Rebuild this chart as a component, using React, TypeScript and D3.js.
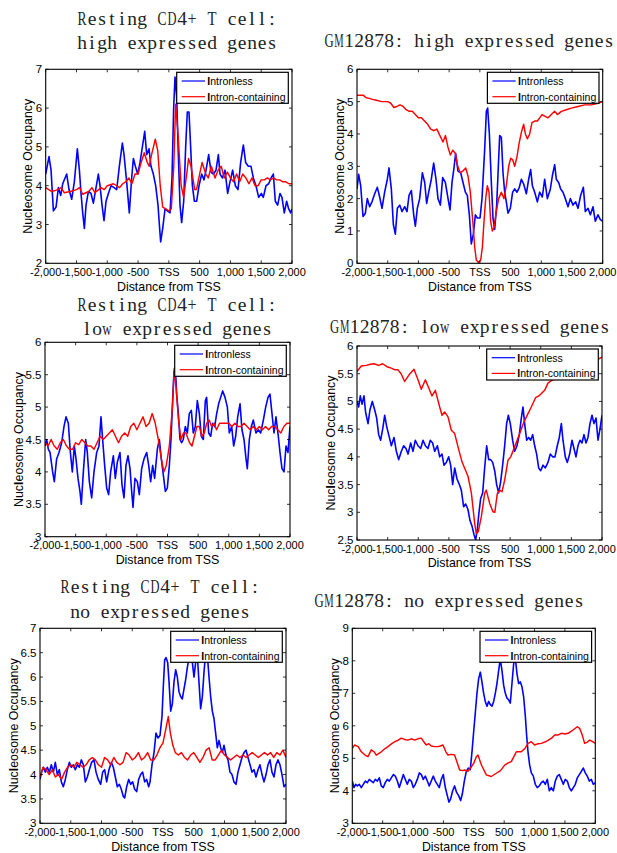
import React from 'react';
import * as d3 from 'd3';

type Pt = [number, number];

// Shared axis / legend text
const xTicks = [-2000, -1500, -1000, -500, 0, 500, 1000, 1500, 2000];
const xTickLabels = ['-2,000', '-1,500', '-1,000', '-500', 'TSS', '500', '1,000', '1,500', '2,000'];
const legendLabels = ['Intronless', 'Intron-containing'];
const seriesColors = ['#0000ff', '#ff0000'];

// Resting CD4+ T cell, high expressed genes
const cd4HighIntronless: Pt[] = [
  [-2000, 4.3], [-1946, 4.75], [-1913, 4.4], [-1875, 3.35], [-1832, 3.45], [-1794, 3.95], [-1756, 3.75], [-1724, 4.05],
  [-1659, 4.3], [-1621, 3.9], [-1578, 3.65], [-1535, 4.1], [-1486, 4.95], [-1453, 4.4], [-1426, 3.8], [-1399, 3.3],
  [-1372, 2.9], [-1345, 3.5], [-1307, 3.85], [-1264, 3.8], [-1226, 3.55], [-1188, 3.9], [-1145, 4.3], [-1118, 4.0],
  [-1085, 3.5], [-1053, 3.1], [-1020, 3.6], [-982, 3.8], [-939, 4.0], [-890, 3.95], [-847, 3.9], [-804, 4.5],
  [-755, 5.1], [-728, 4.8], [-685, 4.1], [-642, 3.3], [-604, 4.2], [-576, 4.7], [-544, 4.5], [-506, 4.3],
  [-468, 4.6], [-430, 5.0], [-392, 5.4], [-360, 4.8], [-322, 4.95], [-290, 4.5], [-252, 4.3], [-214, 4.0],
  [-176, 3.5], [-154, 3.0], [-133, 2.55], [-100, 2.9], [-62, 3.4], [-24, 3.35], [19, 3.3], [51, 4.2],
  [78, 6.0], [100, 6.8], [127, 6.3], [154, 4.8], [181, 3.5], [208, 3.05], [241, 3.6], [273, 5.0],
  [300, 5.9], [327, 5.9], [354, 5.0], [382, 4.0], [414, 3.6], [452, 3.6], [490, 4.0], [533, 4.3],
  [571, 4.15], [604, 4.4], [647, 4.8], [685, 4.35], [723, 4.3], [766, 4.4], [804, 4.8], [831, 4.3],
  [869, 4.2], [912, 4.4], [955, 3.8], [993, 4.1], [1036, 4.4], [1080, 4.0], [1123, 3.9], [1166, 4.6],
  [1210, 5.05], [1247, 4.6], [1291, 4.5], [1334, 4.5], [1372, 4.2], [1415, 4.0], [1459, 3.7], [1502, 3.8],
  [1534, 3.7], [1578, 4.0], [1621, 4.05], [1659, 4.2], [1697, 4.3], [1729, 3.6], [1767, 3.5], [1805, 3.8],
  [1837, 3.7], [1875, 3.3], [1913, 3.6], [1946, 3.4], [1978, 3.3], [2000, 3.4],
];
const cd4HighIntron: Pt[] = [
  [-2000, 3.95], [-1900, 3.85], [-1800, 3.9], [-1750, 3.95], [-1700, 3.82], [-1600, 3.85], [-1500, 3.9], [-1450, 3.95],
  [-1400, 3.78], [-1300, 3.85], [-1250, 3.95], [-1200, 3.82], [-1100, 3.95], [-1050, 3.9], [-1000, 4.0], [-900, 4.05],
  [-800, 3.95], [-750, 4.05], [-700, 4.1], [-650, 4.2], [-600, 4.05], [-550, 4.3], [-500, 4.3], [-450, 4.6],
  [-400, 4.85], [-350, 4.6], [-320, 4.5], [-280, 4.8], [-220, 5.2], [-180, 4.9], [-140, 4.0], [-100, 3.45],
  [-50, 3.4], [0, 3.35], [40, 3.4], [80, 4.5], [110, 6.1], [150, 5.3], [200, 4.0], [240, 3.7],
  [290, 4.3], [320, 4.7], [360, 4.5], [420, 3.9], [450, 3.9], [500, 4.3], [540, 4.6], [600, 4.3],
  [640, 4.2], [690, 4.5], [750, 4.2], [800, 4.4], [850, 4.5], [900, 4.2], [950, 4.35], [1000, 4.2],
  [1050, 4.1], [1100, 4.3], [1150, 4.1], [1200, 4.3], [1250, 4.2], [1300, 4.05], [1350, 4.2], [1400, 4.0],
  [1450, 4.0], [1500, 4.15], [1550, 4.15], [1600, 4.2], [1650, 4.15], [1700, 4.2], [1750, 4.15], [1800, 4.15],
  [1850, 4.1], [1900, 4.1], [1950, 4.05], [2000, 4.05],
];

// GM12878, high expressed genes
const gmHighIntronless: Pt[] = [
  [-2000, 2.3], [-1973, 2.75], [-1940, 2.4], [-1902, 1.45], [-1864, 1.55], [-1832, 2.0], [-1794, 1.75], [-1756, 1.9],
  [-1712, 2.15], [-1669, 2.35], [-1631, 2.05], [-1593, 1.7], [-1550, 2.2], [-1506, 2.6], [-1479, 2.95], [-1441, 2.3],
  [-1408, 1.2], [-1376, 0.9], [-1343, 1.7], [-1305, 1.8], [-1267, 1.6], [-1224, 1.75], [-1186, 1.6], [-1153, 2.1],
  [-1115, 2.25], [-1077, 1.5], [-1050, 1.15], [-1018, 1.7], [-980, 2.0], [-936, 2.8], [-898, 2.5], [-866, 1.85],
  [-833, 2.2], [-790, 2.6], [-752, 3.1], [-714, 2.6], [-681, 2.0], [-643, 1.8], [-605, 2.65], [-562, 2.5],
  [-518, 2.0], [-486, 1.65], [-453, 2.5], [-421, 2.95], [-394, 3.4], [-356, 2.85], [-312, 2.8], [-274, 2.5],
  [-236, 2.2], [-204, 2.1], [-171, 1.5], [-139, 0.6], [-106, 0.9], [-73, 1.5], [-41, 1.4], [3, 1.4],
  [35, 2.0], [78, 3.5], [106, 4.7], [127, 4.8], [155, 4.0], [187, 2.5], [214, 1.4], [241, 1.05],
  [274, 1.8], [301, 3.0], [323, 3.95], [350, 3.9], [377, 2.8], [404, 2.2], [431, 1.9], [458, 1.55],
  [496, 1.7], [534, 2.2], [567, 2.3], [605, 2.2], [643, 2.35], [676, 2.6], [713, 2.45], [757, 2.15],
  [795, 2.6], [827, 2.9], [855, 2.4], [893, 2.2], [936, 1.9], [974, 2.2], [1017, 2.05], [1055, 2.6],
  [1099, 2.0], [1148, 2.3], [1180, 2.7], [1218, 3.05], [1245, 2.6], [1283, 2.5], [1316, 2.3], [1354, 2.2],
  [1392, 2.0], [1435, 1.75], [1473, 2.0], [1517, 1.8], [1560, 1.9], [1598, 1.7], [1641, 2.1], [1685, 2.35],
  [1717, 1.6], [1761, 1.7], [1799, 1.5], [1842, 1.75], [1880, 1.3], [1923, 1.5], [1962, 1.35], [2000, 1.3],
];
const gmHighIntron: Pt[] = [
  [-2000, 5.2], [-1900, 5.2], [-1850, 5.12], [-1800, 5.1], [-1750, 5.07], [-1700, 5.05], [-1600, 5.0], [-1500, 5.0],
  [-1450, 4.95], [-1400, 4.82], [-1350, 4.85], [-1300, 4.9], [-1250, 4.85], [-1200, 4.75], [-1150, 4.7], [-1100, 4.7],
  [-1050, 4.6], [-1000, 4.5], [-950, 4.5], [-900, 4.4], [-850, 4.3], [-800, 4.15], [-750, 4.1], [-700, 4.15],
  [-650, 3.95], [-600, 3.75], [-560, 3.95], [-520, 3.6], [-480, 3.35], [-440, 3.5], [-400, 3.4], [-360, 3.0],
  [-320, 2.8], [-280, 2.85], [-230, 2.95], [-193, 2.7], [-155, 2.2], [-111, 1.2], [-84, 0.5], [-57, 0.1],
  [-19, 0.02], [14, 0.1], [41, 0.5], [68, 1.3], [95, 2.0], [122, 2.4], [149, 2.2], [176, 1.3],
  [203, 1.0], [230, 1.1], [268, 1.6], [306, 2.0], [350, 2.2], [393, 2.0], [431, 2.4], [469, 3.0],
  [502, 3.25], [534, 3.2], [567, 3.0], [605, 3.3], [638, 3.7], [676, 4.05], [713, 4.3], [741, 4.0],
  [773, 3.85], [811, 4.0], [849, 4.35], [893, 4.4], [936, 4.4], [974, 4.5], [1012, 4.6], [1055, 4.55],
  [1110, 4.5], [1164, 4.6], [1218, 4.7], [1262, 4.6], [1327, 4.7], [1408, 4.75], [1490, 4.8], [1598, 4.85],
  [1707, 4.9], [1815, 4.9], [1923, 4.95], [2000, 5.0],
];

// Resting CD4+ T cell, low expressed genes
const cd4LowIntronless: Pt[] = [
  [-2000, 4.4], [-1973, 4.5], [-1946, 4.35], [-1918, 4.3], [-1875, 4.0], [-1848, 3.85], [-1810, 4.2], [-1771, 4.3],
  [-1728, 4.45], [-1690, 4.7], [-1657, 4.85], [-1619, 4.75], [-1586, 4.3], [-1554, 4.0], [-1521, 4.4], [-1494, 4.2],
  [-1461, 3.9], [-1429, 3.7], [-1407, 3.5], [-1374, 4.0], [-1336, 4.5], [-1309, 4.3], [-1276, 3.85], [-1238, 3.6],
  [-1200, 4.0], [-1156, 4.3], [-1118, 4.4], [-1086, 4.85], [-1059, 4.5], [-1026, 4.1], [-993, 3.75], [-961, 3.65],
  [-928, 4.0], [-884, 4.25], [-852, 3.9], [-819, 4.15], [-776, 4.3], [-743, 3.8], [-710, 3.6], [-678, 4.1],
  [-645, 4.25], [-612, 4.05], [-585, 3.7], [-563, 3.45], [-531, 3.9], [-493, 3.85], [-460, 3.65], [-422, 4.05],
  [-384, 4.2], [-340, 4.3], [-307, 4.1], [-275, 3.85], [-242, 4.1], [-210, 3.9], [-166, 4.35], [-133, 4.5],
  [-101, 4.2], [-68, 3.95], [-35, 3.7], [-3, 3.75], [30, 4.1], [57, 4.5], [84, 5.1], [106, 5.55],
  [128, 5.6], [150, 5.2], [177, 4.9], [204, 4.5], [231, 4.45], [258, 4.5], [291, 4.7], [324, 4.6],
  [356, 4.9], [389, 4.95], [421, 4.6], [454, 4.7], [487, 5.1], [520, 4.9], [552, 4.55], [585, 4.5],
  [618, 5.1], [639, 5.15], [672, 4.6], [705, 4.55], [737, 4.75], [770, 4.7], [803, 4.9], [835, 5.05],
  [868, 5.15], [901, 5.25], [939, 5.15], [977, 5.0], [1009, 4.6], [1048, 4.7], [1080, 4.4], [1113, 4.55],
  [1146, 4.85], [1184, 5.05], [1216, 4.65], [1249, 4.5], [1282, 4.2], [1303, 4.05], [1336, 4.5], [1369, 4.7],
  [1401, 4.8], [1445, 4.6], [1483, 4.65], [1521, 4.6], [1565, 4.8], [1603, 5.0], [1641, 5.15], [1673, 5.2],
  [1706, 4.9], [1739, 4.6], [1771, 4.85], [1809, 4.55], [1837, 4.3], [1869, 4.05], [1902, 4.0], [1935, 4.4],
  [1967, 4.3], [2000, 4.7],
];
const cd4LowIntron: Pt[] = [
  [-2000, 4.45], [-1950, 4.4], [-1900, 4.5], [-1850, 4.4], [-1800, 4.35], [-1750, 4.45], [-1700, 4.5], [-1650, 4.4],
  [-1600, 4.35], [-1550, 4.35], [-1500, 4.45], [-1450, 4.42], [-1400, 4.5], [-1350, 4.45], [-1300, 4.4], [-1250, 4.4],
  [-1200, 4.35], [-1150, 4.45], [-1100, 4.55], [-1050, 4.5], [-1000, 4.55], [-950, 4.6], [-900, 4.65], [-850, 4.55],
  [-800, 4.45], [-750, 4.55], [-700, 4.6], [-650, 4.55], [-600, 4.7], [-550, 4.75], [-500, 4.65], [-450, 4.75],
  [-400, 4.85], [-350, 4.7], [-300, 4.75], [-250, 4.9], [-200, 4.75], [-150, 4.5], [-100, 4.2], [-60, 4.0],
  [-20, 4.1], [30, 4.4], [80, 5.0], [110, 5.6], [140, 5.3], [180, 4.8], [220, 4.5], [260, 4.6],
  [300, 4.6], [360, 4.45], [400, 4.4], [440, 4.55], [480, 4.7], [520, 4.7], [560, 4.55], [600, 4.6],
  [640, 4.75], [680, 4.8], [720, 4.7], [760, 4.75], [800, 4.65], [850, 4.75], [900, 4.75], [950, 4.75],
  [1000, 4.75], [1050, 4.7], [1100, 4.75], [1150, 4.7], [1200, 4.7], [1250, 4.75], [1300, 4.7], [1350, 4.65],
  [1400, 4.7], [1450, 4.65], [1500, 4.7], [1550, 4.65], [1600, 4.7], [1650, 4.65], [1700, 4.7], [1750, 4.7],
  [1800, 4.65], [1850, 4.6], [1900, 4.7], [1950, 4.75], [2000, 4.75],
];

// GM12878, low expressed genes
const gmLowIntronless: Pt[] = [
  [-2000, 5.0], [-1973, 4.9], [-1946, 5.1], [-1918, 4.95], [-1886, 5.1], [-1859, 4.8], [-1820, 4.6], [-1788, 4.85],
  [-1750, 5.0], [-1712, 4.85], [-1679, 4.7], [-1646, 4.4], [-1614, 4.3], [-1581, 4.5], [-1548, 4.75], [-1516, 4.55],
  [-1483, 4.4], [-1439, 4.2], [-1396, 4.35], [-1358, 4.1], [-1320, 3.95], [-1276, 4.1], [-1238, 4.2], [-1200, 4.15],
  [-1167, 4.05], [-1124, 4.25], [-1086, 4.1], [-1048, 4.3], [-1004, 4.2], [-961, 4.15], [-922, 4.3], [-884, 4.2],
  [-841, 4.15], [-803, 4.3], [-765, 4.25], [-732, 4.1], [-688, 4.2], [-650, 4.0], [-612, 4.05], [-580, 3.85],
  [-542, 3.9], [-503, 4.0], [-471, 3.85], [-438, 3.5], [-405, 3.8], [-367, 3.6], [-329, 3.5], [-297, 3.4],
  [-259, 3.1], [-226, 3.15], [-188, 3.05], [-155, 2.85], [-122, 2.75], [-90, 2.6], [-63, 2.5], [-35, 2.7],
  [-8, 3.0], [19, 3.25], [52, 3.35], [84, 3.8], [117, 4.2], [150, 3.95], [182, 3.95], [215, 3.9],
  [248, 3.75], [280, 3.5], [313, 3.35], [345, 3.55], [378, 3.85], [411, 4.2], [443, 4.6], [471, 4.75],
  [503, 4.6], [541, 4.3], [574, 4.1], [612, 4.2], [650, 4.4], [683, 4.7], [710, 4.9], [737, 4.6],
  [770, 4.3], [803, 4.35], [835, 4.3], [868, 4.4], [901, 4.2], [933, 4.05], [966, 3.8], [999, 3.75],
  [1037, 3.85], [1075, 3.8], [1118, 3.9], [1156, 4.05], [1194, 4.0], [1232, 4.0], [1270, 4.2], [1303, 4.35],
  [1336, 4.6], [1363, 4.3], [1401, 4.0], [1434, 3.9], [1472, 4.05], [1510, 4.3], [1543, 4.15], [1575, 4.0],
  [1608, 4.2], [1641, 4.3], [1673, 4.25], [1706, 4.4], [1739, 4.25], [1771, 4.35], [1804, 4.6], [1837, 4.75],
  [1869, 4.6], [1902, 4.7], [1935, 4.3], [1967, 4.5], [2000, 4.75],
];
const gmLowIntron: Pt[] = [
  [-2000, 5.54], [-1930, 5.64], [-1850, 5.65], [-1780, 5.67], [-1720, 5.68], [-1650, 5.65], [-1580, 5.68], [-1500, 5.62],
  [-1440, 5.6], [-1380, 5.57], [-1330, 5.57], [-1280, 5.5], [-1222, 5.36], [-1150, 5.48], [-1070, 5.58], [-1004, 5.39],
  [-950, 5.22], [-884, 5.39], [-814, 5.2], [-776, 5.1], [-721, 5.2], [-650, 4.9], [-612, 4.75], [-570, 4.81],
  [-514, 4.72], [-460, 4.48], [-405, 4.42], [-351, 4.18], [-286, 3.91], [-188, 3.65], [-133, 3.35], [-79, 2.8],
  [-52, 2.62], [-20, 2.65], [30, 2.92], [84, 3.34], [111, 3.4], [166, 3.16], [220, 3.01], [250, 3.0],
  [291, 3.34], [329, 3.4], [367, 3.37], [411, 3.58], [465, 3.94], [509, 4.0], [574, 4.18], [656, 4.42],
  [726, 4.63], [792, 4.78], [846, 4.9], [917, 5.07], [982, 5.11], [1064, 5.2], [1118, 5.33], [1189, 5.39],
  [1254, 5.4], [1336, 5.5], [1445, 5.57], [1553, 5.62], [1650, 5.66], [1750, 5.7], [1850, 5.72], [1950, 5.77],
  [2000, 5.8],
];

// Resting CD4+ T cell, no expressed genes
const cd4NoIntronless: Pt[] = [
  [-2000, 3.9], [-1973, 4.05], [-1946, 4.15], [-1913, 4.05], [-1881, 4.15], [-1848, 4.05], [-1816, 4.2], [-1783, 4.05],
  [-1751, 4.25], [-1718, 4.0], [-1686, 4.1], [-1653, 3.85], [-1621, 3.75], [-1588, 3.9], [-1556, 4.1], [-1523, 4.25],
  [-1491, 4.15], [-1458, 4.2], [-1426, 4.1], [-1393, 4.2], [-1360, 4.15], [-1328, 4.3], [-1295, 4.2], [-1263, 3.85],
  [-1230, 3.95], [-1198, 4.1], [-1160, 4.25], [-1122, 4.3], [-1089, 4.05], [-1052, 3.9], [-1014, 3.8], [-981, 4.05],
  [-949, 4.1], [-916, 3.85], [-878, 4.1], [-840, 4.25], [-808, 4.15], [-775, 3.95], [-743, 3.75], [-710, 3.8],
  [-678, 3.7], [-645, 3.55], [-623, 3.52], [-591, 3.75], [-558, 3.9], [-526, 3.8], [-493, 3.85], [-461, 3.7],
  [-428, 3.65], [-396, 3.9], [-363, 4.0], [-331, 4.05], [-298, 3.85], [-266, 3.9], [-233, 3.75], [-211, 3.85],
  [-179, 4.2], [-146, 4.45], [-114, 4.85], [-81, 4.75], [-49, 4.8], [-16, 5.2], [5, 5.8], [27, 6.35],
  [49, 6.4], [76, 6.3], [98, 5.9], [125, 5.3], [152, 5.45], [179, 5.9], [206, 6.15], [233, 6.0],
  [260, 5.7], [287, 5.6], [314, 5.55], [341, 5.75], [369, 5.95], [396, 6.2], [423, 6.4], [450, 6.5],
  [477, 6.3], [504, 6.0], [531, 6.3], [558, 6.45], [585, 5.9], [612, 5.35], [640, 5.6], [667, 6.1],
  [694, 6.5], [721, 6.45], [748, 6.0], [775, 5.6], [802, 5.3], [829, 5.15], [856, 4.85], [883, 4.55],
  [911, 4.7], [938, 4.55], [965, 4.45], [992, 4.6], [1024, 4.4], [1057, 4.3], [1089, 4.05], [1122, 4.0],
  [1154, 3.85], [1187, 3.8], [1219, 4.05], [1252, 4.2], [1284, 4.35], [1317, 4.45], [1350, 4.5], [1382, 4.35],
  [1415, 4.2], [1447, 4.05], [1480, 4.1], [1512, 3.95], [1545, 4.1], [1577, 4.2], [1610, 4.0], [1642, 3.85],
  [1675, 4.0], [1707, 4.2], [1740, 4.3], [1772, 4.05], [1805, 3.95], [1837, 4.2], [1870, 4.3], [1902, 4.2],
  [1935, 4.0], [1967, 3.75], [2000, 3.8],
];
const cd4NoIntron: Pt[] = [
  [-2000, 3.95], [-1950, 4.15], [-1900, 4.1], [-1850, 4.0], [-1800, 4.1], [-1750, 3.95], [-1700, 4.0], [-1650, 3.9],
  [-1600, 4.05], [-1550, 4.15], [-1500, 4.2], [-1450, 4.15], [-1400, 4.25], [-1350, 4.2], [-1300, 4.15], [-1250, 4.2],
  [-1200, 4.3], [-1150, 4.35], [-1100, 4.3], [-1050, 4.2], [-1000, 4.15], [-950, 4.35], [-900, 4.3], [-850, 4.2],
  [-800, 4.35], [-750, 4.25], [-700, 4.2], [-650, 4.25], [-600, 4.45], [-550, 4.4], [-500, 4.3], [-450, 4.35],
  [-400, 4.45], [-350, 4.3], [-300, 4.35], [-250, 4.45], [-200, 4.3], [-150, 4.3], [-100, 4.4], [-50, 4.55],
  [0, 4.65], [40, 4.9], [86, 5.19], [120, 4.85], [160, 4.6], [200, 4.45], [250, 4.4], [300, 4.45],
  [350, 4.35], [400, 4.3], [450, 4.4], [500, 4.45], [550, 4.35], [600, 4.25], [650, 4.35], [700, 4.5],
  [750, 4.55], [800, 4.3], [850, 4.3], [900, 4.4], [950, 4.5], [1000, 4.4], [1050, 4.35], [1100, 4.3],
  [1150, 4.35], [1200, 4.4], [1250, 4.35], [1300, 4.4], [1350, 4.35], [1400, 4.4], [1450, 4.45], [1500, 4.4],
  [1550, 4.35], [1600, 4.4], [1650, 4.45], [1700, 4.4], [1750, 4.45], [1800, 4.35], [1850, 4.45], [1900, 4.4],
  [1950, 4.5], [2000, 4.35],
];

// GM12878, no expressed genes
const gmNoIntronless: Pt[] = [
  [-2000, 4.3], [-1973, 4.1], [-1945, 4.2], [-1918, 4.15], [-1885, 4.2], [-1852, 4.1], [-1819, 4.2], [-1786, 4.3],
  [-1753, 4.25], [-1720, 4.35], [-1687, 4.3], [-1654, 4.25], [-1621, 4.35], [-1588, 4.3], [-1556, 4.4], [-1523, 4.15],
  [-1490, 4.1], [-1457, 4.25], [-1424, 4.35], [-1391, 4.3], [-1358, 4.4], [-1325, 4.5], [-1292, 4.45], [-1259, 4.3],
  [-1226, 4.1], [-1193, 4.3], [-1160, 4.5], [-1128, 4.35], [-1095, 4.2], [-1062, 4.35], [-1029, 4.3], [-996, 4.1],
  [-963, 4.2], [-930, 4.35], [-897, 4.55], [-864, 4.5], [-831, 4.35], [-798, 4.45], [-765, 4.3], [-733, 4.15],
  [-700, 4.3], [-667, 4.45], [-634, 4.3], [-601, 4.2], [-568, 4.1], [-535, 4.35], [-502, 4.5], [-469, 4.1],
  [-436, 3.85], [-409, 3.65], [-381, 3.75], [-348, 4.0], [-316, 4.15], [-283, 3.95], [-250, 3.85], [-217, 3.7],
  [-189, 3.9], [-156, 4.3], [-123, 4.6], [-91, 4.7], [-58, 4.65], [-30, 5.2], [-3, 5.8], [25, 6.4],
  [52, 7.0], [80, 7.45], [107, 7.65], [134, 7.35], [162, 7.0], [189, 6.75], [217, 6.6], [244, 6.75],
  [272, 6.65], [299, 6.6], [327, 6.75], [354, 7.0], [381, 7.3], [409, 7.7], [436, 8.05], [464, 7.7],
  [491, 7.25], [519, 7.0], [546, 6.85], [573, 6.8], [601, 6.7], [628, 7.3], [656, 7.9], [683, 8.1],
  [711, 7.6], [738, 7.3], [766, 7.35], [793, 7.2], [820, 6.9], [848, 6.3], [870, 5.7], [892, 5.2],
  [919, 4.8], [947, 4.55], [980, 4.45], [1012, 4.2], [1045, 4.1], [1078, 4.15], [1111, 4.25], [1144, 4.3],
  [1177, 4.2], [1210, 4.35], [1243, 4.0], [1276, 4.1], [1309, 4.0], [1342, 4.3], [1375, 4.45], [1407, 4.5],
  [1440, 4.35], [1473, 4.2], [1506, 4.35], [1539, 4.3], [1572, 4.1], [1605, 4.0], [1638, 4.1], [1671, 4.2],
  [1704, 4.4], [1737, 4.5], [1770, 4.6], [1802, 4.7], [1835, 4.55], [1868, 4.45], [1901, 4.3], [1934, 4.35],
  [1967, 4.2], [2000, 4.25],
];
const gmNoIntron: Pt[] = [
  [-2000, 5.31], [-1962, 5.41], [-1900, 5.35], [-1852, 5.2], [-1790, 5.1], [-1742, 5.05], [-1687, 5.26], [-1640, 5.2],
  [-1605, 5.1], [-1523, 5.2], [-1460, 5.3], [-1413, 5.36], [-1350, 5.45], [-1303, 5.51], [-1250, 5.55], [-1193, 5.62],
  [-1140, 5.58], [-1084, 5.56], [-1030, 5.6], [-974, 5.56], [-920, 5.6], [-864, 5.62], [-820, 5.5], [-782, 5.41],
  [-740, 5.45], [-700, 5.38], [-640, 5.36], [-590, 5.36], [-550, 5.38], [-508, 5.41], [-460, 5.2], [-425, 5.1],
  [-370, 5.12], [-316, 5.1], [-270, 4.85], [-233, 4.64], [-180, 4.62], [-150, 4.64], [-96, 4.6], [-40, 4.74],
  [0, 4.85], [41, 5.05], [69, 5.1], [124, 4.8], [206, 4.49], [288, 4.44], [370, 4.54], [440, 4.62],
  [508, 4.79], [560, 4.85], [617, 4.9], [660, 5.05], [700, 5.2], [782, 5.2], [840, 5.3], [892, 5.46],
  [947, 5.51], [1002, 5.41], [1060, 5.45], [1111, 5.46], [1170, 5.5], [1221, 5.55], [1280, 5.62], [1331, 5.72],
  [1390, 5.72], [1440, 5.77], [1500, 5.75], [1550, 5.77], [1632, 5.87], [1704, 5.97], [1742, 5.92], [1780, 5.75],
  [1824, 5.46], [1870, 5.5], [1907, 5.56], [1950, 5.52], [2000, 5.46],
];

interface Box { l: number; t: number; r: number; b: number; }
interface Panel {
  title: string[];
  titleX: number;
  titleY: number[];
  box: Box;
  yDomain: [number, number];
  yTicks: number[];
  yLabelGap: number;
  series: Pt[][];
}

const cd4HighTicks = [2, 3, 4, 5, 6, 7];
const gmHighTicks = [0, 1, 2, 3, 4, 5, 6];
const cd4LowTicks = [3, 3.5, 4, 4.5, 5, 5.5, 6];
const gmLowTicks = [2.5, 3, 3.5, 4, 4.5, 5, 5.5, 6];
const cd4NoTicks = [3, 3.5, 4, 4.5, 5, 5.5, 6, 6.5, 7];
const gmNoTicks = [3, 4, 5, 6, 7, 8, 9];

const panels: Panel[] = [
  {
    title: ['Resting CD4+ T cell:', 'high expressed genes'], titleX: 177, titleY: [25, 48.6],
    box: { l: 45.7, t: 69.3, r: 292, b: 263.3 }, yDomain: [2, 7], yTicks: cd4HighTicks, yLabelGap: 14.2,
    series: [cd4HighIntronless, cd4HighIntron],
  },
  {
    title: ['GM12878: high expressed genes'], titleX: 469, titleY: [46.7],
    box: { l: 357, t: 69.3, r: 602.7, b: 263.3 }, yDomain: [0, 6], yTicks: gmHighTicks, yLabelGap: 13.2,
    series: [gmHighIntronless, gmHighIntron],
  },
  {
    title: ['Resting CD4+ T cell:', 'low expressed genes'], titleX: 177, titleY: [310.7, 335],
    box: { l: 45, t: 342.3, r: 290, b: 536.7 }, yDomain: [3, 6], yTicks: cd4LowTicks, yLabelGap: 22,
    series: [cd4LowIntronless, cd4LowIntron],
  },
  {
    title: ['GM12878: low expressed genes'], titleX: 469.7, titleY: [333.3],
    box: { l: 357, t: 346, r: 602, b: 540 }, yDomain: [2.5, 6], yTicks: gmLowTicks, yLabelGap: 22.5,
    series: [gmLowIntronless, gmLowIntron],
  },
  {
    title: ['Resting CD4+ T cell:', 'no expressed genes'], titleX: 160, titleY: [593.3, 618.3],
    box: { l: 40, t: 628.3, r: 286, b: 823.3 }, yDomain: [3, 7], yTicks: cd4NoTicks, yLabelGap: 21.7,
    series: [cd4NoIntronless, cd4NoIntron],
  },
  {
    title: ['GM12878: no expressed genes'], titleX: 449, titleY: [606.7],
    box: { l: 352.3, t: 628.3, r: 595.3, b: 823.3 }, yDomain: [3, 9], yTicks: gmNoTicks, yLabelGap: 13.5,
    series: [gmNoIntronless, gmNoIntron],
  },
];

const sansFont = '"Liberation Sans", Arial, sans-serif';
const serifFont = '"Liberation Serif", "Times New Roman", serif';

// Titles are set on a fixed 10px character grid (half-width CJK-style serif);
// glyphs that are naturally wider than the cell get squeezed into it.
const CELL = 10;
const squeezed: Record<string, number> = {
  m: 9.4, w: 9.4, M: 9.4, G: 9.2, C: 9, D: 9, R: 9, T: 9, '+': 9,
};

function GridTitle({ text, cx, y }: { text: string; cx: number; y: number }) {
  const start = cx - (text.length * CELL) / 2;
  const chars = Array.from(text);
  return (
    <text fontFamily={serifFont} fontSize={19.5} fill="#222" y={y}>
      {chars.map((ch, i) => {
        if (ch === ' ') return null;
        const w = squeezed[ch];
        const mid = start + (i + 0.5) * CELL;
        return w ? (
          <tspan key={i} x={mid - w / 2} textLength={w} lengthAdjust="spacingAndGlyphs">
            {ch}
          </tspan>
        ) : (
          <tspan key={i} x={mid} textAnchor="middle">
            {ch}
          </tspan>
        );
      })}
    </text>
  );
}

function ChartPanel({ p, idx }: { p: Panel; idx: number }) {
  const { l, t, r, b } = p.box;
  const x = d3.scaleLinear().domain([-2000, 2000]).range([l, r]);
  const y = d3.scaleLinear().domain(p.yDomain).range([b, t]);
  const line = d3.line<Pt>().x((d) => x(d[0])).y((d) => y(d[1]));
  const clipId = `plot-clip-${idx}`;
  const tickLen = 3;

  const legW = 111.6;
  const legH = 31;
  const legX = r - 3.7 - legW;
  const legY = t + 3;

  return (
    <g>
      {p.title.map((ln, i) => (
        <GridTitle key={i} text={ln} cx={p.titleX} y={p.titleY[i]} />
      ))}

      <rect x={l} y={t} width={r - l} height={b - t} fill="#ffffff" />
      <defs>
        <clipPath id={clipId}>
          <rect x={l} y={t} width={r - l} height={b - t} />
        </clipPath>
      </defs>

      <g clipPath={`url(#${clipId})`}>
        {p.series.map((s, i) => (
          <path
            key={i}
            d={line(s) || ''}
            fill="none"
            stroke={seriesColors[i]}
            strokeWidth={i === 0 ? 1.6 : 1.45}
            strokeLinejoin="round"
          />
        ))}
      </g>

      {/* inward ticks on all four sides */}
      {xTicks.map((v) => (
        <g key={`xt${v}`} stroke="#000" strokeWidth={0.8}>
          <line x1={x(v)} x2={x(v)} y1={b} y2={b - tickLen} />
          <line x1={x(v)} x2={x(v)} y1={t} y2={t + tickLen} />
        </g>
      ))}
      {p.yTicks.map((v) => (
        <g key={`yt${v}`} stroke="#000" strokeWidth={0.8}>
          <line x1={l} x2={l + tickLen} y1={y(v)} y2={y(v)} />
          <line x1={r} x2={r - tickLen} y1={y(v)} y2={y(v)} />
        </g>
      ))}
      <rect x={l} y={t} width={r - l} height={b - t} fill="none" stroke="#000" strokeWidth={1.1} />

      {xTicks.map((v, i) => (
        <text
          key={`xl${v}`}
          x={x(v)}
          y={b + 12.6}
          textAnchor="middle"
          fontFamily={sansFont}
          fontSize={11}
          fill="#000"
        >
          {xTickLabels[i]}
        </text>
      ))}
      {p.yTicks.map((v) => (
        <text
          key={`yl${v}`}
          x={l - 3.5}
          y={y(v) + 4}
          textAnchor="end"
          fontFamily={sansFont}
          fontSize={11.5}
          fill="#000"
        >
          {String(v)}
        </text>
      ))}

      <text
        x={(l + r) / 2}
        y={b + 27.3}
        textAnchor="middle"
        fontFamily={sansFont}
        fontSize={12.4}
        fill="#000"
      >
        Distance from TSS
      </text>
      <text
        transform={`translate(${l - p.yLabelGap},${(t + b) / 2}) rotate(-90)`}
        textAnchor="middle"
        fontFamily={sansFont}
        fontSize={12.4}
        fill="#000"
      >
        Nuc<tspan fontWeight="bold">l</tspan>eosome Occupancy
      </text>

      {/* legend */}
      <rect x={legX} y={legY} width={legW} height={legH} fill="#ffffff" stroke="#000" strokeWidth={1.2} />
      {legendLabels.map((lab, i) => {
        const cy = legY + 8.7 + i * 15.7;
        return (
          <g key={lab}>
            <line x1={legX + 5} x2={legX + 28.3} y1={cy} y2={cy} stroke={seriesColors[i]} strokeWidth={1.2} />
            <text x={legX + 30.6} y={cy + 3.8} fontFamily={sansFont} fontSize={10.5} fill="#000">
              <tspan fontWeight="bold">{lab[0]}</tspan>
              {lab.slice(1)}
            </text>
          </g>
        );
      })}
    </g>
  );
}

export default function App() {
  return (
    <svg
      width={617}
      height={853}
      viewBox="0 0 617 853"
      style={{ position: 'absolute', left: 0, top: 0, background: '#ffffff', display: 'block' }}
    >
      <rect x={0} y={0} width={617} height={853} fill="#ffffff" />
      {panels.map((p, i) => (
        <ChartPanel key={i} p={p} idx={i} />
      ))}
    </svg>
  );
}
